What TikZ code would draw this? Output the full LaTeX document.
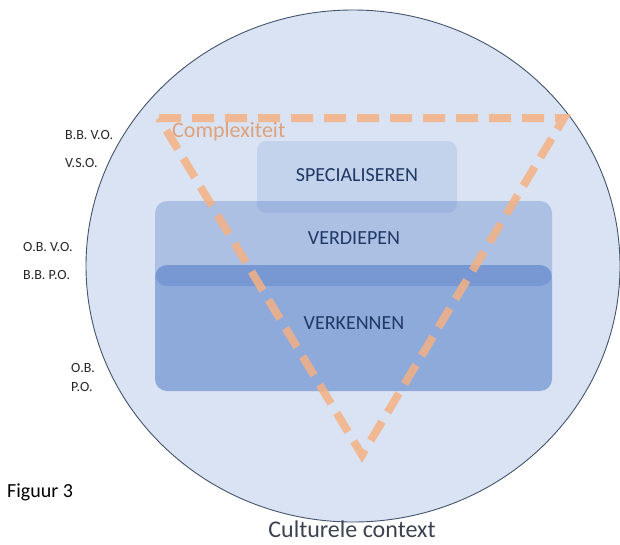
\documentclass[tikz,border=0pt]{standalone}
\usepackage{fontspec}
\setmainfont{Carlito}
\definecolor{ctxfill}{HTML}{DAE3F3}
\definecolor{ctxline}{HTML}{44546A}
\definecolor{boxblue}{HTML}{4472C4}
\definecolor{tri}{HTML}{F4B183}
\definecolor{cplx}{HTML}{DFA27A}
\definecolor{boxtext}{HTML}{203864}
\definecolor{labtext}{HTML}{262626}
\definecolor{ctxtext}{HTML}{3B4350}
\begin{document}
\begin{tikzpicture}[x=1pt,y=-1pt,
  levelbox/.style={fill=boxblue, rounded corners=12pt, inner sep=0pt, draw=none},
  boxlabel/.style={text=boxtext, font=\fontsize{20}{24}\selectfont, inner sep=0pt, anchor=center},
  sidelabel/.style={text=labtext, font=\fontsize{14}{16}\selectfont, inner sep=0pt, anchor=west},
  dashtri/.style={draw=tri, line width=8pt, dash pattern=on 22pt off 11pt, opacity=0.85, line join=miter}
]
\useasboundingbox (0,0) rectangle (620,544);
% cultural context
\draw[fill=ctxfill, draw=ctxline, line width=0.9pt] (353,266) ellipse [x radius=267, y radius=256];
% level boxes
\node[levelbox, fill opacity=0.14, minimum width=200pt, minimum height=72pt, rounded corners=9pt] (spec) at (357,177) {};
\node[levelbox, fill opacity=0.30, minimum width=397pt, minimum height=85pt] (verd) at (353.5,243.5) {};
\node[levelbox, fill opacity=0.50, minimum width=397pt, minimum height=126pt] (verk) at (353.5,328) {};
\node[boxlabel] (specT) at (357,175) {SPECIALISEREN};
\node[boxlabel] (verdT) at (354,238) {VERDIEPEN};
\node[boxlabel] (verkT) at (354,323) {VERKENNEN};
% complexity triangle
\coordinate (tA) at (159,118);
\coordinate (tB) at (564,118);
\coordinate (tC) at (362,455);
\draw[dashtri] (tA) -- (tB) -- (tC) -- cycle;
\node[text=cplx, font=\fontsize{22}{26}\selectfont, inner sep=0pt, anchor=base west] (cx) at (172,137) {Complexiteit};
% side labels
\node[sidelabel] (l1) at (65,135) {B.B. V.O.};
\node[sidelabel] (l2) at (65,163) {V.S.O.};
\node[sidelabel] (l3) at (23,247) {O.B. V.O.};
\node[sidelabel] (l4) at (23,275) {B.B. P.O.};
\node[sidelabel] (l5) at (71,368) {O.B.};
\node[sidelabel] (l6) at (71,387) {P.O.};
\node[text=black, font=\fontsize{20}{24}\selectfont, inner sep=0pt, anchor=west] (fig) at (7,492) {Figuur 3};
\node[text=ctxtext, font=\fontsize{24}{28}\selectfont, inner sep=0pt, anchor=base] (ctx) at (352,537) {Culturele context};
\end{tikzpicture}
\end{document}
